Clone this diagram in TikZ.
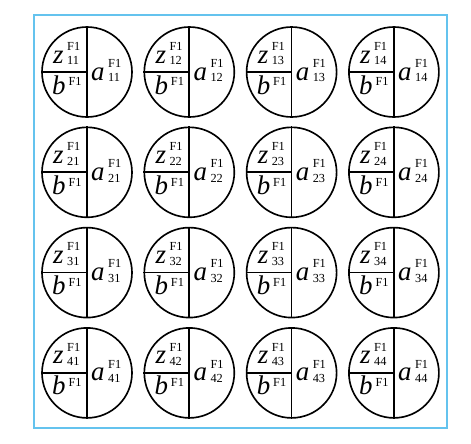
\documentclass[tikz,border=0pt]{standalone}
\usepackage{fontspec}
\setmainfont{Liberation Serif}
\usetikzlibrary{positioning}
\definecolor{framecyan}{RGB}{100,195,238}
% letter with F1 over an index
\newcommand{\cellvar}[2]{\textit{#1}\kern3pt\rlap{\raisebox{10.8pt}{\fontsize{10.5}{10.5}\selectfont F1}}\raisebox{-1.6pt}{\fontsize{10.5}{10.5}\selectfont #2}}
% letter with F1 only
\newcommand{\cellsup}[1]{\textit{#1}\kern2.5pt\raisebox{7pt}{\fontsize{10.5}{10.5}\selectfont F1}}

\begin{document}
\begin{tikzpicture}[x=0.03cm,y=-0.03cm,
    cell/.style={circle,draw,line width=1.4pt,minimum size=2.7cm,inner sep=0pt},
    var/.style={font=\fontsize{23}{25}\selectfont,inner sep=0pt,anchor=base west}]
  \useasboundingbox (0,0) rectangle (471,443);
  \draw[framecyan,line width=1.6pt] (34,15) rectangle (447,428);
  \foreach \row in {1,...,4}{
    \foreach \col in {1,...,4}{
      \node[cell] (c\row\col) at ({87+102.3*(\col-1)},{72+100.3*(\row-1)}) {};
      \draw[line width=1.4pt] (c\row\col.north) -- (c\row\col.south) (c\row\col.west) -- (c\row\col.center);
      \node[var] (z\row\col) at ([shift={(-34,-9)}]c\row\col.center) {\cellvar{z}{\row\col}};
      \node[var] (b\row\col) at ([shift={(-35,22)}]c\row\col.center) {\cellsup{b}};
      \node[var] (a\row\col) at ([shift={(4,8)}]c\row\col.center) {\cellvar{a}{\row\col}};
    }
  }
\end{tikzpicture}
\end{document}
